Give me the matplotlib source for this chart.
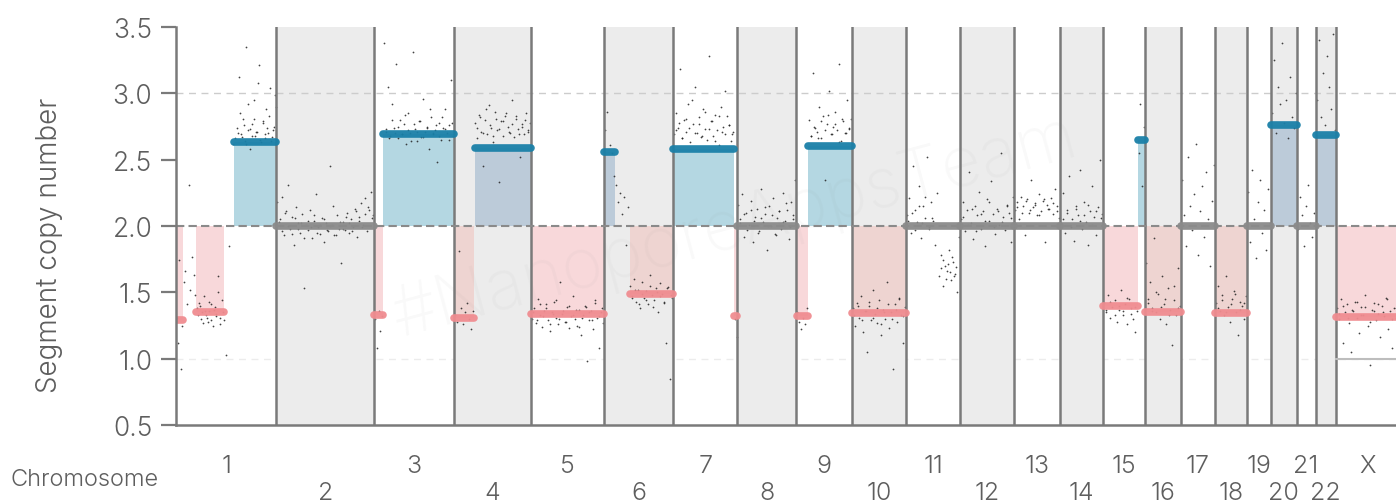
import numpy as np
import matplotlib
matplotlib.use("Agg")
from matplotlib import pyplot as plt

plt.rcParams['font.family'] = ['Inter', 'DejaVu Sans']
plt.rcParams['font.weight'] = 300

chrom_names = ["1", "2", "3", "4", "5", "6", "7", "8", "9", "10", "11", "12",
               "13", "14", "15", "16", "17", "18", "19", "20", "21", "22", "X"]
# chromosome lengths in Mb (hg38)
chrom_lengths = [248.96, 242.19, 198.30, 190.21, 181.54, 170.81, 159.35, 145.14,
                 138.39, 133.80, 135.09, 133.28, 114.36, 107.04, 101.99, 90.34,
                 83.26, 80.37, 58.62, 64.44, 46.71, 50.82, 156.04]

# called segments: chromosome, start (Mb), end (Mb), copy number
seg_chrom = ["1", "1", "1", "2", "3", "3", "4", "4", "5", "6", "6", "7", "7", "8",
             "9", "9", "10", "11", "12", "13", "14", "15", "15", "16", "17", "18",
             "19", "20", "21", "22", "X"]
seg_start = [0, 50, 143, 0, 0, 23, 0, 51, 0, 0, 64, 0, 152, 0,
             2, 30, 0, 0, 0, 0, 0, 0, 85, 0, 0, 0,
             0, 0, 0, 0, 0]
seg_end = [17, 120, 248.96, 242.19, 22, 198.30, 49, 190.21, 181.54, 27, 170.81, 152, 159.35, 145.14,
           30, 138.39, 133.80, 135.09, 133.28, 114.36, 107.04, 85, 101.99, 90.34, 83.26, 80.37,
           58.62, 64.44, 46.71, 50.82, 156.04]
seg_cn = [1.29, 1.35, 2.63, 2.0, 1.33, 2.69, 1.31, 2.59, 1.34, 2.56, 1.49, 2.58, 1.32, 2.0,
          1.32, 2.60, 1.345, 2.0, 2.0, 2.0, 2.0, 1.40, 2.65, 1.355, 2.0, 1.345,
          2.0, 2.76, 2.0, 2.685, 1.315]

# bin copy numbers: chromosome, region start, region end, values
dot_regions = [
    ("1", 0, 17, [1.31, 1.12, 1.74, 0.92, 1.25]),
    ("1", 17, 50, [1.58, 1.66, 1.41, 2.31, 1.52, 1.77, 1.63, 1.48]),
    ("1", 50, 120, [1.38, 1.42, 1.30, 1.35, 1.47, 1.33, 1.28, 1.36, 1.41, 1.25, 1.39, 1.34,
                    1.62, 1.31, 1.44, 1.29]),
    ("1", 52, 118, [1.33, 1.40, 1.27, 1.36, 1.31, 1.43, 1.29, 1.37, 1.32, 1.50, 1.26, 1.35]),
    ("1", 120, 145, [1.03, 1.85, 2.62]),
    ("1", 145, 248.96, [2.66, 2.74, 3.12, 2.69, 2.81, 2.64, 3.35, 2.72, 2.58, 2.77, 2.95, 2.68,
                        2.71, 3.21, 2.63, 2.79, 2.66, 2.88, 2.70, 3.04, 2.67, 2.75, 2.90]),
    ("1", 150, 248, [2.70, 2.85, 2.67, 2.76, 2.62, 2.92, 2.73, 2.68, 2.81, 2.71, 3.08, 2.65,
                     2.78, 2.69, 2.74, 2.83, 2.64, 2.72, 2.99]),
    ("2", 0, 242.19, [2.18, 2.05, 2.22, 1.93, 2.11, 2.31, 1.98, 2.07, 1.86, 2.14, 2.02, 1.95,
                      2.09, 1.53, 2.01, 1.97, 2.12, 1.91, 2.04, 2.24, 1.99, 1.94, 2.06, 1.88,
                      2.02, 1.96, 2.45, 2.01, 1.93, 2.08, 1.98, 1.72, 2.03, 1.97, 2.10, 1.95,
                      2.05, 1.99, 2.13, 1.92, 2.07, 2.17, 2.01, 2.21, 1.96, 2.12, 2.26, 2.08]),
    ("2", 2, 240, [2.03, 1.96, 2.10, 2.00, 1.94, 2.06, 1.98, 2.02, 1.91, 2.04, 1.99, 2.08,
                   1.95, 2.01, 2.05, 1.97, 2.00, 2.15, 1.93, 2.03, 1.98, 2.07, 2.02, 1.96,
                   2.11, 2.04, 1.99, 2.09, 2.14, 2.06]),
    ("3", 0, 22, [1.30, 1.08, 1.36, 1.21, 1.32]),
    ("3", 22, 198.30, [3.38, 2.71, 3.05, 2.68, 2.92, 2.74, 3.22, 2.66, 2.80, 2.69, 2.77, 2.62,
                       2.85, 2.70, 3.31, 2.73, 2.64, 2.79, 2.67, 2.96, 2.71, 2.75, 2.58, 2.82,
                       2.69, 2.72, 2.48, 2.78, 2.65, 2.74, 2.88, 2.70, 2.76, 3.10, 2.68]),
    ("3", 25, 196, [2.73, 2.66, 2.80, 2.70, 2.75, 2.69, 2.84, 2.72, 2.64, 2.77, 2.71, 2.79,
                    2.67, 2.74, 2.88, 2.70, 2.76, 2.68, 2.82, 2.73, 2.65, 2.78]),
    ("4", 0, 49, [1.33, 1.28, 1.81, 1.38, 1.26, 1.35, 1.42, 1.30, 1.22, 1.36]),
    ("4", 49, 190.21, [2.78, 2.66, 2.84, 2.71, 2.45, 2.80, 2.69, 2.91, 2.74, 2.63, 2.86, 2.72,
                       2.33, 2.79, 2.68, 2.83, 2.75, 2.70, 2.95, 2.67, 2.81, 2.73, 2.52, 2.77,
                       2.69, 2.85, 2.71, 2.78]),
    ("4", 52, 188, [2.74, 2.82, 2.70, 2.88, 2.76, 2.68, 2.81, 2.73, 2.79, 2.85, 2.71, 2.77,
                    2.83, 2.69, 2.75, 2.80, 2.72]),
    ("5", 0, 181.54, [1.30, 1.38, 1.27, 1.45, 1.33, 1.24, 1.36, 1.41, 1.29, 1.21, 1.35, 1.43,
                      1.31, 1.26, 1.58, 1.34, 1.28, 1.39, 1.23, 1.32, 1.47, 1.30, 1.25, 1.37,
                      1.18, 1.33, 1.40, 0.98, 1.29, 1.36, 1.22, 1.44, 1.31, 1.08, 1.35, 1.27]),
    ("5", 2, 180, [1.35, 1.29, 1.41, 1.32, 1.38, 1.26, 1.34, 1.44, 1.30, 1.36, 1.28, 1.40,
                   1.33, 1.37, 1.24, 1.31, 1.39, 1.35, 1.29, 1.42, 1.32, 1.38]),
    ("6", 0, 27, [2.72, 2.86, 2.61, 2.55, 2.38]),
    ("6", 27, 62, [2.31, 2.18, 2.25, 2.09, 2.22, 1.86, 2.14]),
    ("6", 62, 170.81, [1.55, 1.47, 1.60, 1.43, 1.52, 1.38, 1.58, 1.46, 1.51, 1.41, 1.63, 1.48,
                       1.44, 1.53, 1.35, 1.57, 1.49, 1.42, 1.12, 1.54, 0.85, 1.46]),
    ("6", 64, 170, [1.46, 1.52, 1.41, 1.49, 1.44, 1.55, 1.39, 1.50, 1.47, 1.43, 1.53, 1.48]),
    ("7", 0, 152, [2.69, 2.85, 2.74, 3.18, 2.66, 2.80, 2.71, 2.92, 2.63, 2.77, 3.05, 2.70,
                   2.82, 2.67, 2.88, 2.73, 2.65, 3.28, 2.79, 2.68, 2.84, 2.72, 2.61, 2.90,
                   2.75, 2.69, 2.83, 2.76, 2.64, 2.71]),
    ("7", 2, 150, [2.72, 2.78, 2.66, 2.81, 2.74, 2.95, 2.70, 2.77, 2.68, 2.86, 2.73, 2.79,
                   2.64, 2.83, 2.71, 3.02, 2.76, 2.69]),
    ("7", 152, 159.35, [1.30, 1.16]),
    ("8", 0, 145.14, [2.16, 2.05, 2.24, 1.92, 2.10, 2.01, 2.19, 1.88, 2.07, 2.13, 1.96, 2.28,
                      2.03, 2.09, 1.82, 2.15, 2.00, 2.21, 1.94, 2.06, 2.11, 1.98, 2.25, 2.04,
                      2.12, 1.90, 2.18, 2.08, 2.35]),
    ("8", 2, 143, [2.02, 2.09, 1.97, 2.12, 2.04, 1.95, 2.06, 2.14, 2.00, 2.08, 1.93, 2.11,
                   2.03, 2.17, 1.99, 2.05]),
    ("9", 0, 30, [1.35, 1.28, 1.22, 1.31, 1.26, 1.38]),
    ("9", 30, 138.39, [2.80, 2.68, 3.15, 2.74, 2.71, 2.90, 2.66, 2.83, 2.35, 2.77, 3.02, 2.69,
                       2.75, 2.86, 2.72, 3.22, 2.64, 2.79, 2.70, 2.95, 2.73, 2.81]),
    ("9", 32, 136, [2.68, 2.75, 2.66, 2.79, 2.72, 2.84, 2.69, 2.77, 2.63, 2.81, 2.70, 2.74]),
    ("10", 0, 133.80, [1.38, 1.25, 1.42, 1.31, 1.47, 1.20, 1.36, 1.05, 1.40, 1.29, 1.52, 1.34,
                       1.27, 1.44, 1.18, 1.37, 1.30, 1.58, 1.23, 1.35, 0.92, 1.41, 1.28, 1.46,
                       1.33, 1.12, 1.39]),
    ("10", 2, 132, [1.33, 1.40, 1.29, 1.36, 1.43, 1.31, 1.38, 1.26, 1.35, 1.41, 1.30, 1.37,
                    1.45, 1.32]),
    ("11", 0, 135.09, [2.08, 2.21, 1.95, 2.45, 2.12, 2.03, 2.30, 1.91, 2.15, 2.06, 2.52, 1.98,
                       2.18, 2.04, 1.86, 2.25, 1.62, 1.78, 1.55, 1.70, 1.66, 1.82, 1.59, 1.73,
                       1.64, 1.50, 1.92]),
    ("11", 2, 70, [2.04, 2.10, 1.97, 2.15, 2.02, 2.22, 1.99, 2.06]),
    ("11", 85, 128, [1.68, 1.74, 1.60, 1.71, 1.65, 1.77, 1.62, 1.69]),
    ("12", 0, 133.28, [2.05, 2.18, 1.96, 2.12, 2.41, 2.02, 1.90, 2.15, 2.08, 2.26, 1.98, 2.11,
                       1.85, 2.20, 2.04, 2.34, 2.09, 1.94, 2.13, 2.01, 2.55, 2.07, 1.97, 2.16,
                       2.10, 1.88, 2.22]),
    ("12", 2, 131, [2.07, 2.01, 2.13, 1.96, 2.09, 2.04, 2.18, 1.99, 2.11, 2.03, 2.15, 2.06]),
    ("13", 0, 114.36, [2.12, 2.18, 2.05, 2.22, 2.15, 1.93, 2.20, 2.10, 2.35, 2.14, 2.17, 2.08,
                       2.24, 2.11, 2.19, 1.88, 2.16, 2.13, 2.21, 2.09, 2.28, 2.15, 2.06]),
    ("13", 2, 112, [2.14, 2.10, 2.19, 2.12, 2.16, 2.08, 2.20, 2.13, 2.17, 2.11]),
    ("14", 0, 107.04, [2.02, 2.25, 1.95, 2.12, 2.38, 2.05, 1.89, 2.15, 2.08, 2.42, 1.98, 2.18,
                       2.03, 1.86, 2.11, 2.30, 2.07, 1.93, 2.14, 2.50, 2.09]),
    ("14", 2, 105, [2.05, 2.10, 1.99, 2.13, 2.04, 2.08, 2.16, 2.01, 2.11, 2.06]),
    ("15", 0, 85, [1.42, 1.35, 1.48, 1.31, 1.39, 1.44, 1.28, 1.37, 1.52, 1.33, 1.41, 1.26,
                   1.45, 1.38, 1.30, 1.20, 1.36]),
    ("15", 2, 84, [1.37, 1.43, 1.33, 1.40, 1.36, 1.46, 1.34, 1.39]),
    ("15", 85, 101.99, [2.55, 2.92, 2.30, 2.75]),
    ("16", 0, 90.34, [1.72, 1.45, 1.58, 1.38, 1.91, 1.35, 1.49, 1.30, 1.62, 1.41, 1.26, 1.53,
                      1.37, 1.10, 1.44, 1.33, 1.68, 1.40]),
    ("16", 2, 88, [1.42, 1.36, 1.50, 1.39, 1.45, 1.33, 1.55, 1.38]),
    ("17", 0, 83.26, [2.35, 2.08, 1.85, 2.52, 2.15, 1.97, 2.24, 2.62, 1.78, 2.11, 2.30, 1.92,
                      2.41, 2.05, 1.70, 2.19, 2.46]),
    ("18", 0, 80.37, [1.42, 1.55, 1.36, 1.48, 1.33, 1.62, 1.39, 1.28, 1.45, 1.51, 1.35, 1.18,
                      1.43, 1.40, 1.30, 1.47]),
    ("18", 2, 78, [1.38, 1.44, 1.35, 1.41, 1.49, 1.37, 1.42]),
    ("19", 0, 58.62, [2.26, 1.88, 2.42, 2.05, 1.76, 2.18, 2.35, 1.95, 2.12, 1.82, 2.28, 2.02]),
    ("20", 0, 64.44, [2.85, 3.25, 2.70, 3.05, 2.92, 3.38, 2.78, 2.95, 2.66, 3.12, 2.82, 2.74, 3.00]),
    ("21", 0, 46.71, [1.98, 2.22, 2.08, 1.85, 2.15, 2.31, 2.02, 1.92, 2.10]),
    ("22", 0, 50.82, [2.95, 3.40, 2.82, 3.15, 2.76, 3.28, 3.05, 2.88, 3.45, 2.72]),
    ("X", 0, 156.04, [1.38, 1.30, 1.45, 1.12, 1.35, 1.41, 1.27, 1.05, 1.36, 1.43, 1.31, 1.19,
                      1.39, 1.33, 1.48, 1.25, 0.95, 1.37, 1.42, 1.29, 1.34, 1.16, 1.40, 1.32,
                      1.46, 1.22, 1.36, 1.08, 1.38, 1.31, 1.44]),
    ("X", 2, 154, [1.34, 1.40, 1.31, 1.37, 1.43, 1.33, 1.39, 1.28, 1.36, 1.41, 1.35, 1.45,
                   1.30, 1.38]),
]

offsets = np.concatenate([[0], np.cumsum(chrom_lengths)[:-1]])
chrom_offset = dict(zip(chrom_names, offsets))
total = float(np.sum(chrom_lengths))

fig = plt.figure(figsize=(13.96, 5.02), dpi=100)
ax = fig.add_axes([176 / 1396, 76 / 502, 1223 / 1396, 398 / 502])
ax.set_xlim(0, total)
ax.set_ylim(0.5, 3.5)

line_col = "#7a7a7a"
text_col = "#5e5e5e"
shaded = set()
for i, name in enumerate(chrom_names):
    x0 = offsets[i]
    x1 = x0 + chrom_lengths[i]
    if i % 2 == 1:
        ax.axvspan(x0, x1, color="#ececec", lw=0, zorder=0)
        shaded.add(name)
    if i > 0:
        ax.axvline(x0, color=line_col, lw=1.8, zorder=3)

# reference lines
ax.axhline(3.0, color="#cccccc", lw=1, dashes=(5, 4), zorder=1.5)
ax.axhline(1.0, color="#ececec", lw=1, dashes=(5, 4), zorder=1.5)
ax.axhline(2.0, color="#8a8a8a", lw=1.5, dashes=(4, 2), zorder=3.5)
ax.plot([chrom_offset["X"], total], [1.0, 1.0], color="#bdbdbd", lw=1.5, zorder=3.5)

# fills and segment lines
for c, s, e, v in zip(seg_chrom, seg_start, seg_end, seg_cn):
    x0 = chrom_offset[c] + s
    x1 = chrom_offset[c] + e
    on_grey = c in shaded
    if v > 2.05:
        fill = "#bccbd9" if on_grey else "#b4d7e2"
        col = "#1a80a8"
    elif v < 1.95:
        fill = "#eed4d1" if on_grey else "#f8d8da"
        col = "#f08c90"
    else:
        fill = None
        col = "#8a8a8a"
    if fill:
        ax.fill_between([x0, x1], 2.0, v, color=fill, lw=0, zorder=1)
    ax.plot([x0, x1], [v, v], color=col, lw=5.5, solid_capstyle="round",
            alpha=0.95, zorder=4)

# bin dots
dot_x = []
dot_y = []
for c, s, e, vals in dot_regions:
    n = len(vals)
    step = (e - s) / n
    for k, v in enumerate(vals):
        dot_x.append(chrom_offset[c] + s + (k + 0.5) * step)
        dot_y.append(v)
ax.scatter(dot_x, dot_y, s=1.6, color="#222222", lw=0, alpha=0.85, zorder=2)

# watermark
fig.text(735 / 1396, 1 - 228 / 502, "#NanoporeAppsTeam", fontsize=50, color="#888888",
         weight=200, alpha=0.05, rotation=15, ha="center", va="center", zorder=10)

# axes styling
for side in ["top", "right"]:
    ax.spines[side].set_visible(False)
for side in ["left", "bottom"]:
    ax.spines[side].set_color(line_col)
    ax.spines[side].set_linewidth(1.8)
    ax.spines[side].set_zorder(5)

ax.set_yticks([0.5, 1.0, 1.5, 2.0, 2.5, 3.0, 3.5])
ax.set_yticklabels(["0.5", "1.0", "1.5", "2.0", "2.5", "3.0", "3.5"])
ax.tick_params(axis="y", length=11, width=1.6, color=line_col, labelcolor=text_col,
               labelsize=19, pad=6)

# odd chromosomes on the upper row, even on the lower row
centers = offsets + np.array(chrom_lengths) / 2
ax.set_xticks(centers[0::2])
ax.set_xticklabels(chrom_names[0::2])
ax.set_xticks(centers[1::2], minor=True)
ax.set_xticklabels(chrom_names[1::2], minor=True)
ax.tick_params(axis="x", which="major", length=0, labelcolor=text_col, labelsize=18, pad=21)
ax.tick_params(axis="x", which="minor", length=0, labelcolor=text_col, labelsize=18, pad=40)

fig.text(50 / 1396, 1 - 245 / 502, "Segment copy number", rotation=90, fontsize=20,
         color=text_col, ha="center", va="center")
fig.text(10 / 1396, 1 - 480 / 502, "Chromosome", fontsize=17, color=text_col,
         ha="left", va="center")

fig.savefig("out.png", dpi=100)
